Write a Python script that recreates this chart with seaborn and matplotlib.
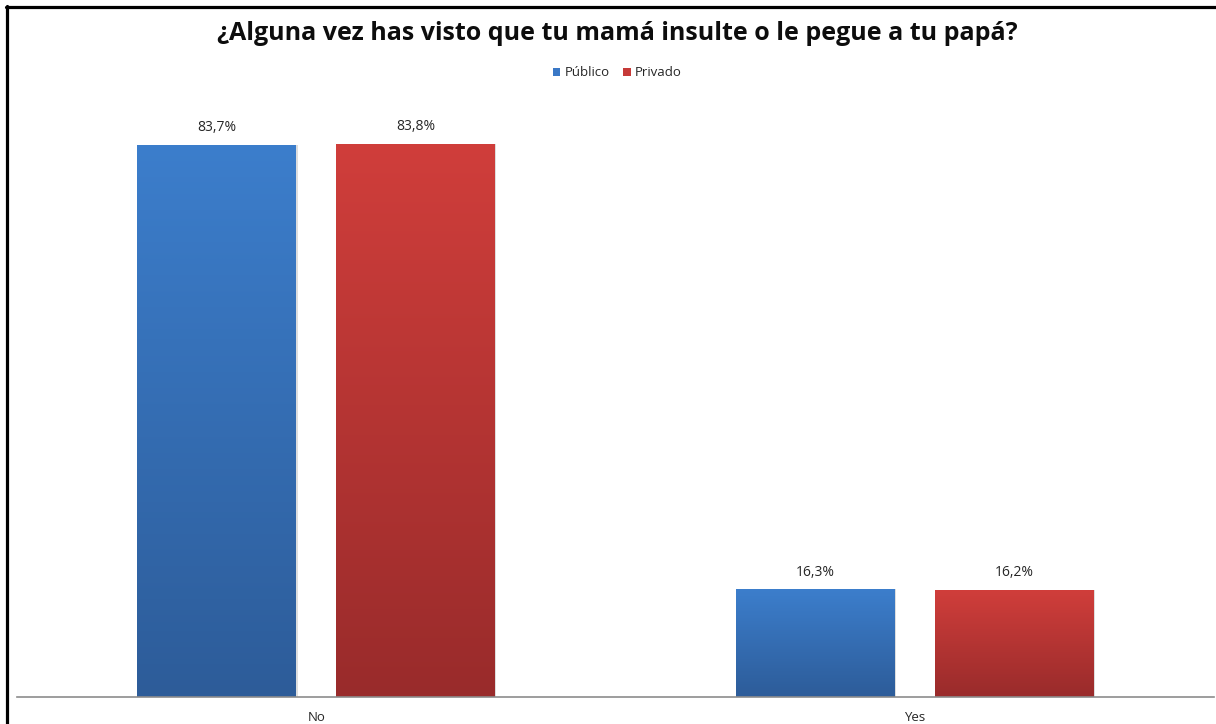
import numpy as np
import pandas as pd
import matplotlib
matplotlib.use("Agg")
import matplotlib.pyplot as plt
from matplotlib.colors import LinearSegmentedColormap
from matplotlib.lines import Line2D
import seaborn as sns

# datos
respuestas = ["No", "Yes"]
colegios = ["Público", "Privado"]
publico = [83.7, 16.3]
privado = [83.8, 16.2]
etiquetas_publico = ["83,7%", "16,3%"]
etiquetas_privado = ["83,8%", "16,2%"]

df = pd.DataFrame({
    "respuesta": respuestas * 2,
    "colegio": [colegios[0]] * 2 + [colegios[1]] * 2,
    "valor": publico + privado,
    "etiqueta": etiquetas_publico + etiquetas_privado,
})

sns.set_style("white")
plt.rcParams["font.family"] = ["Open Sans", "DejaVu Sans"]

W, H = 1216, 724
fig = plt.figure(figsize=(W / 100, H / 100), dpi=100)
ax = fig.add_axes([17 / W, 27 / H, (1214 - 17) / W, (697 - 103) / H])

colores = {"Público": "#3A78C6", "Privado": "#C63A38"}
sns.barplot(data=df, x="respuesta", y="valor", hue="colegio", palette=colores,
            width=0.664, gap=0.2, ax=ax, legend=True, linewidth=0, saturation=1)

# degradado vertical en cada barra
grad = {
    "Público": LinearSegmentedColormap.from_list("pub", ["#2D5C99", "#3C7ECC"]),
    "Privado": LinearSegmentedColormap.from_list("pri", ["#992B2B", "#D03E3B"]),
}
for cont, col in zip(ax.containers, colores):
    for bar in cont:
        x0, y0 = bar.get_x(), bar.get_y()
        w, h = bar.get_width(), bar.get_height()
        # sombra ligera
        ax.add_patch(plt.Rectangle((x0 + 0.002, y0), w, h, color="#bfbfbf",
                                   alpha=0.5, zorder=1.5, lw=0))
        img = ax.imshow(np.linspace(0, 1, 256).reshape(-1, 1), cmap=grad[col],
                        extent=[x0, x0 + w, y0, y0 + h], origin="lower",
                        aspect="auto", zorder=2, vmin=0, vmax=1)
        img.set_clip_path(bar)
        bar.set_zorder(1.8)
    ax.bar_label(cont, labels=list(df.loc[df["colegio"] == col, "etiqueta"]),
                 padding=7, fontsize=10, color="#262626")

ax.set_xlim(-0.5, 1.5)
ax.set_ylim(0, 90)

for s in ["top", "right", "left"]:
    ax.spines[s].set_visible(False)
ax.spines["bottom"].set_color("#8c8c8c")
ax.spines["bottom"].set_linewidth(1.2)
ax.set_yticks([])
ax.set_xlabel("")
ax.set_ylabel("")
ax.tick_params(axis="x", length=0, pad=10, labelsize=9.5, labelcolor="#262626")

handles, labels = ax.get_legend_handles_labels()
ax.legend(handles, labels, loc="center", bbox_to_anchor=(617 / W, 1 - 73 / H),
          bbox_transform=fig.transFigure, ncol=2, frameon=False, fontsize=9.5,
          handlelength=0.6, handleheight=0.6, handletextpad=0.3, columnspacing=1.0)

fig.text(617 / W, 1 - 34 / H, "¿Alguna vez has visto que tu mamá insulte o le pegue a tu papá?",
         ha="center", va="center", fontsize=18, fontweight="bold", color="#0d0d0d")

# marco
fig.add_artist(Line2D([6 / W, 1], [1 - 7 / H, 1 - 7 / H], color="black", lw=2.3,
                      transform=fig.transFigure))
fig.add_artist(Line2D([7 / W, 7 / W], [0, 1 - 6 / H], color="black", lw=2.3,
                      transform=fig.transFigure))

fig.savefig("out.png", dpi=100, facecolor="white")
